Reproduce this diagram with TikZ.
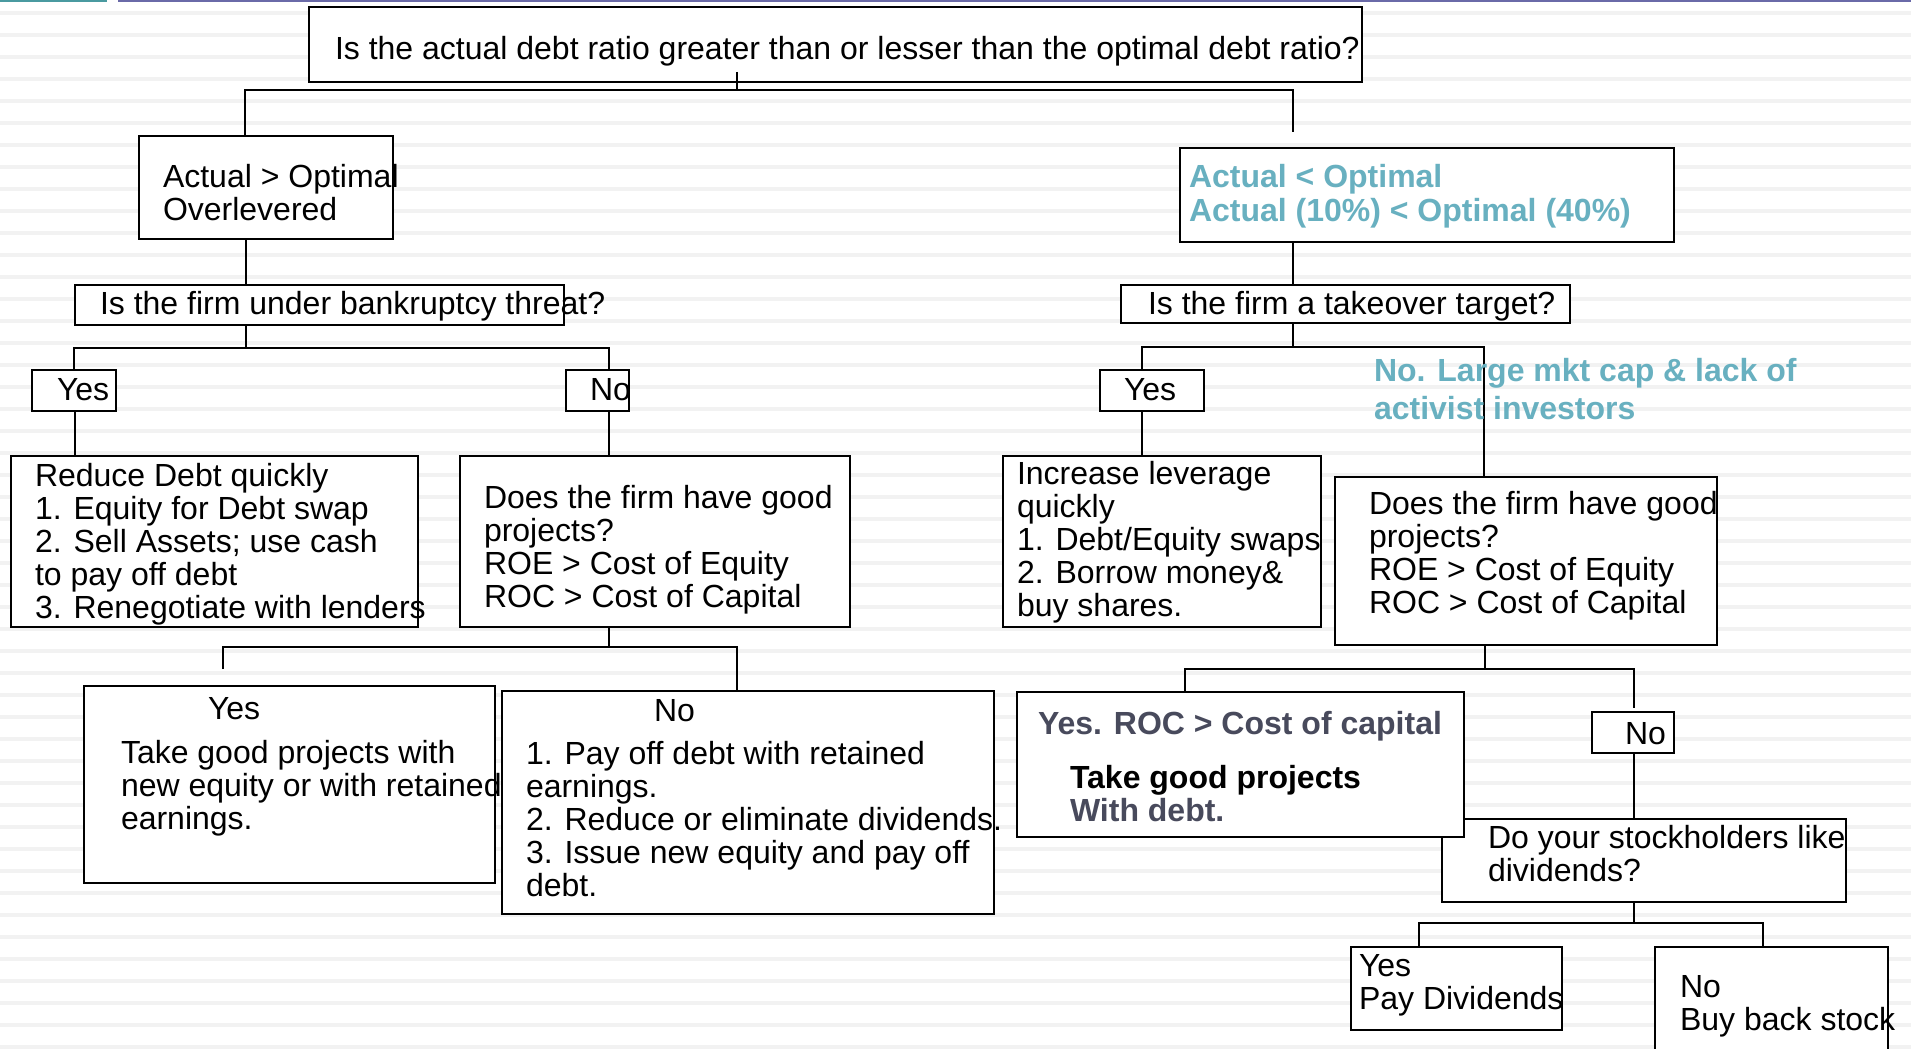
\documentclass[tikz,border=0pt]{standalone}
\usepackage{fontspec}
\setmainfont{Liberation Sans}
\definecolor{tealtx}{RGB}{104,176,192}
\definecolor{grayb}{RGB}{72,74,92}
\definecolor{stripecol}{RGB}{242,242,242}
\definecolor{topteal}{RGB}{74,154,160}
\definecolor{toppurp}{RGB}{106,106,168}
\tikzset{
  box/.style={draw=black, line width=2.8pt, fill=white, inner sep=0pt, outer sep=0pt, anchor=north west},
  conn/.style={draw=black, line width=2.4pt},
  txt/.style={anchor=north west, inner sep=0pt, outer sep=0pt, align=left, yshift=21.5pt,
    font=\fontsize{32}{33}\selectfont, execute at begin node=\strut},
  tealtxt/.style={txt, text=tealtx, font=\fontsize{32}{33}\selectfont\bfseries},
  boldtxt/.style={txt, font=\fontsize{32}{33}\selectfont\bfseries},
}
\newcommand\bx[5]{\node[box, minimum width={(#4)-(#2)}, minimum height={(#5)-(#3)}] (#1) at (#2,#3) {};}
\begin{document}
\begin{tikzpicture}[x=1pt,y=-1pt]
\useasboundingbox (0,0) rectangle (1911,1049);
\clip (0,0) rectangle (1911,1049);
\fill[white] (0,0) rectangle (1911,1049);
\foreach \k in {0,...,47} \draw[stripecol, line width=4pt] (0,{13+22*\k}) -- (1911,{13+22*\k});
\draw[topteal, line width=2pt] (0,1) -- (107,1);
\draw[toppurp, line width=2pt] (118,1) -- (1911,1);

% boxes
\bx{top}{309}{7}{1362}{82}
\bx{ovl}{139}{136}{393}{239}
\bx{bank}{75}{285}{564}{325}
\bx{yesL}{32}{370}{116}{411}
\bx{noL}{566}{370}{629}{411}
\bx{reduce}{11}{456}{418}{627}
\bx{doesL}{460}{456}{850}{627}
\bx{yesLL}{84}{686}{495}{883}
\bx{noLL}{502}{691}{994}{914}
\bx{act}{1180}{148}{1674}{242}
\bx{take}{1121}{285}{1570}{323}
\bx{yesR}{1100}{370}{1204}{411}
\bx{incr}{1003}{456}{1321}{627}
\bx{doesR}{1335}{477}{1717}{645}
\bx{stock}{1442}{819}{1846}{902}
\bx{yesROC}{1017}{692}{1464}{837}
\bx{noR}{1592}{712}{1674}{753}
\bx{yesDiv}{1351}{947}{1562}{1030}
\bx{noBuy}{1655}{947}{1888}{1080}

% junction coordinates
\coordinate (c1) at (737,90);  \coordinate (c1l) at (245,90); \coordinate (c1r) at (1293,90); \coordinate (c1e) at (1293,132);
\coordinate (xa) at (246,0);
\coordinate (c2) at (246,348); \coordinate (c2l) at (74,348); \coordinate (c2r) at (609,348);
\coordinate (xb) at (75,0);
\coordinate (c3) at (609,647); \coordinate (c3l) at (223,647); \coordinate (c3r) at (737,647); \coordinate (c3e) at (223,669);
\coordinate (c4) at (1293,347); \coordinate (c4l) at (1142,347); \coordinate (c4r) at (1484,347);
\coordinate (c5) at (1485,669); \coordinate (c5l) at (1185,669); \coordinate (c5r) at (1634,669); \coordinate (c5e) at (1634,708);
\coordinate (c6) at (1634,923); \coordinate (c6l) at (1419,923); \coordinate (c6r) at (1763,923);

% connectors
\draw[conn] ([yshift=10pt]top.south -| c1) -- (c1);
\draw[conn] (ovl.north -| c1l) -- (c1l) -- (c1r) -- (c1e);
\draw[conn] (ovl.south -| xa) -- (bank.north -| xa);
\draw[conn] (bank.south -| c2) -- (c2);
\draw[conn] (yesL.north -| c2l) -- (c2l) -- (c2r) -- (noL.north -| c2r);
\draw[conn] (yesL.south -| xb) -- (reduce.north -| xb);
\draw[conn] (noL.south -| c2r) -- (doesL.north -| c2r);
\draw[conn] (doesL.south -| c3) -- (c3);
\draw[conn] (c3e) -- (c3l) -- (c3r) -- (noLL.north -| c3r);
\draw[conn] (act.south -| c1r) -- (take.north -| c1r);
\draw[conn] (take.south -| c4) -- (c4);
\draw[conn] (yesR.north -| c4l) -- (c4l) -- (c4r) -- (doesR.north -| c4r);
\draw[conn] (yesR.south -| c4l) -- (incr.north -| c4l);
\draw[conn] (doesR.south -| c5) -- (c5);
\draw[conn] (yesROC.north -| c5l) -- (c5l) -- (c5r) -- (c5e);
\draw[conn] (noR.south -| c5r) -- (stock.north -| c5r);
\draw[conn] (stock.south -| c6) -- (c6);
\draw[conn] (yesDiv.north -| c6l) -- (c6l) -- (c6r) -- (noBuy.north -| c6r);

% texts
\node[txt] (t1) at (335,58) {Is the actual debt ratio greater than or lesser than the optimal debt ratio?};
\node[txt] (t2) at (163,186) {Actual > Optimal\\Overlevered};
\node[txt] (t3) at (100,313) {Is the firm under bankruptcy threat?};
\node[txt] (t4) at (57,399) {Yes};
\node[txt] (t5) at (590,399) {No};
\node[txt] (t6) at (35,485) {Reduce Debt quickly\\1. Equity for Debt swap\\2. Sell Assets; use cash\\to pay off debt\\3. Renegotiate with lenders};
\node[txt] (t7) at (484,507) {Does the firm have good\\projects?\\ROE > Cost of Equity\\ROC > Cost of Capital};
\node[txt] (t8) at (208,718) {Yes};
\node[txt] (t9) at (121,762) {Take good projects with\\new equity or with retained\\earnings.};
\node[txt] (t10) at (654,720) {No};
\node[txt] (t11) at (526,763) {1. Pay off debt with retained\\earnings.\\2. Reduce or eliminate dividends.\\3. Issue new equity and pay off\\debt.};
\node[tealtxt] (t12) at (1189,186) {Actual < Optimal\\[1pt]Actual (10\%) < Optimal (40\%)};
\node[txt] (t13) at (1148,313) {Is the firm a takeover target?};
\node[txt] (t14) at (1124,399) {Yes};
\node[tealtxt] (t15) at (1374,380) {No. Large mkt cap \& lack of\\[5pt]activist investors};
\node[txt] (t16) at (1017,483) {Increase leverage\\quickly\\1. Debt/Equity swaps\\2. Borrow money\&\\buy shares.};
\node[txt] (t17) at (1369,513) {Does the firm have good\\projects?\\ROE > Cost of Equity\\ROC > Cost of Capital};
\node[boldtxt, text=grayb] (t18) at (1038,733) {Yes. ROC > Cost of capital};
\node[boldtxt] (t19) at (1070,787) {Take good projects\\\textcolor{grayb}{With debt.}};
\node[txt] (t20) at (1625,743) {No};
\node[txt] (t21) at (1488,847) {Do your stockholders like\\dividends?};
\node[txt] (t22) at (1359,976) {Yes\\Pay Dividends};
\node[txt] (t23) at (1680,997) {No\\Buy back stock};
\end{tikzpicture}
\end{document}
